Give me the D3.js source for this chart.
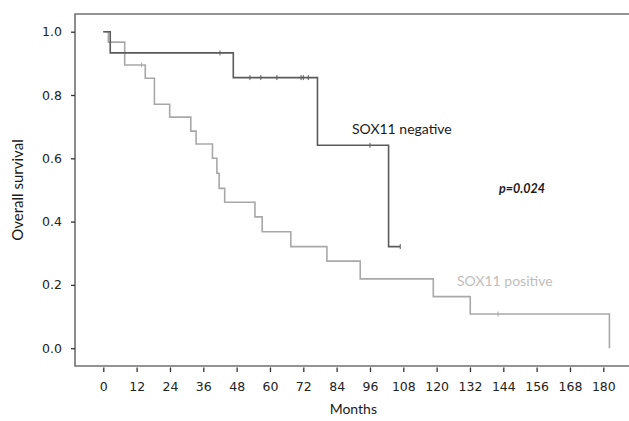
<!DOCTYPE html>
<html>
<head>
<meta charset="utf-8">
<script src="https://cdn.jsdelivr.net/npm/d3@7"></script>
<style>
  body { margin: 0; background: #fff; }
  .tick text { font-family: "DejaVu Sans", sans-serif; font-size: 12.5px; fill: #222; }
</style>
</head>
<body>
<div id="chart"></div>
<script>
const width = 629
const height = 421

// SOX11 negative group (step times in months, survival after each step)
const negTime = [0, 2.5, 46.8, 77.1, 102.7, 106.9];
const negSurv = [1.0, 0.933, 0.855, 0.641, 0.321, 0.321];
const negCensor = [42.0, 52.8, 56.7, 62.5, 71.2, 72.0, 73.8, 96.0, 106.9];

// SOX11 positive group
const posTime = [0, 1.8, 7.7, 15.1, 18.4, 23.9, 31.5, 33.4, 39.3, 40.9, 41.7, 43.7, 54.6, 57.2, 67.5, 80.5, 92.5, 118.8, 132.1, 182.2];
const posSurv = [1.0, 0.967, 0.895, 0.853, 0.771, 0.730, 0.686, 0.645, 0.600, 0.553, 0.505, 0.461, 0.415, 0.368, 0.321, 0.275, 0.219, 0.163, 0.108, 0.0];
const posCensor = [13.8, 142.1];

const xTicks = [0, 12, 24, 36, 48, 60, 72, 84, 96, 108, 120, 132, 144, 156, 168, 180];
const yTicks = [0.0, 0.2, 0.4, 0.6, 0.8, 1.0];

const svg = d3.select('#chart').append('svg').attr('width', width).attr('height', height);

const x = d3.scaleLinear().domain([0, 180]).range([103.3, 603.3]);
const y = d3.scaleLinear().domain([0, 1]).range([348.2, 31.7]);

const frame = {left: 75, top: 14, bottom: 366, right: 629};

// frame lines (no right border visible)
svg.append('path')
  .attr('d', `M${frame.right},${frame.top}H${frame.left}V${frame.bottom}H${frame.right}`)
  .attr('fill', 'none')
  .attr('stroke', '#707070')
  .attr('stroke-width', 1.6);

svg.append('g')
  .attr('transform', 'translate(0,' + frame.bottom + ')')
  .call(d3.axisBottom(x).tickValues(xTicks).tickSizeInner(6).tickSizeOuter(0).tickPadding(10).tickFormat(d3.format('d')))
  .call(g => g.select('.domain').remove())
  .call(g => g.selectAll('.tick line').attr('stroke', '#333').attr('stroke-width', 1.3).attr('y1', 1.5));

svg.append('g')
  .attr('transform', 'translate(' + frame.left + ',0)')
  .call(d3.axisLeft(y).tickValues(yTicks).tickSizeInner(4).tickSizeOuter(0).tickPadding(9).tickFormat(d3.format('.1f')))
  .call(g => g.select('.domain').remove())
  .call(g => g.selectAll('.tick line').attr('stroke', '#333').attr('stroke-width', 1.3));

const line = d3.line()
  .x(d => x(d[0]))
  .y(d => y(d[1]))
  .curve(d3.curveStepAfter);

function survAt(times, surv, t) {
  let s = surv[0];
  times.forEach((tt, i) => { if (tt <= t) s = surv[i]; });
  return s;
}

function drawCurve(times, surv, censor, color, sw) {
  svg.append('path')
    .datum(times.map((t, i) => [t, surv[i]]))
    .attr('d', line)
    .attr('fill', 'none')
    .attr('stroke', color)
    .attr('stroke-width', sw);

  svg.append('g')
    .selectAll('line')
    .data(censor)
    .enter().append('line')
    .attr('x1', d => x(d))
    .attr('x2', d => x(d))
    .attr('y1', d => y(survAt(times, surv, d)) - 2.5)
    .attr('y2', d => y(survAt(times, surv, d)) + 2.5)
    .attr('stroke', color)
    .attr('stroke-width', 1);
}

drawCurve(posTime, posSurv, posCensor, '#a8a8a8', 1.6);
drawCurve(negTime, negSurv, negCensor, '#5a5a5a', 1.6);

svg.append('text')
  .attr('x', 352)
  .attr('y', 134)
  .style('font-family', 'Lato, sans-serif')
  .style('font-size', '14px')
  .style('fill', '#1a1a1a')
  .text('SOX11 negative');

svg.append('text')
  .attr('x', 457)
  .attr('y', 286)
  .style('font-family', 'Lato, sans-serif')
  .style('font-size', '14px')
  .style('fill', '#bdbdbd')
  .text('SOX11 positive');

svg.append('text')
  .attr('x', 499)
  .attr('y', 193)
  .style('font-family', 'Lato, sans-serif')
  .style('font-size', '12.5px')
  .style('font-weight', 'bold')
  .style('font-style', 'italic')
  .style('fill', '#1a1a1a')
  .text('p=0.024');

svg.append('text')
  .attr('x', x(90))
  .attr('y', 414)
  .attr('text-anchor', 'middle')
  .style('font-family', 'Lato, sans-serif')
  .style('font-size', '14px')
  .style('fill', '#1a1a1a')
  .text('Months');

svg.append('text')
  .attr('transform', 'translate(23,190) rotate(-90)')
  .attr('text-anchor', 'middle')
  .style('font-family', 'Lato, sans-serif')
  .style('font-size', '15px')
  .style('fill', '#1a1a1a')
  .text('Overall survival');
</script>
</body>
</html>
